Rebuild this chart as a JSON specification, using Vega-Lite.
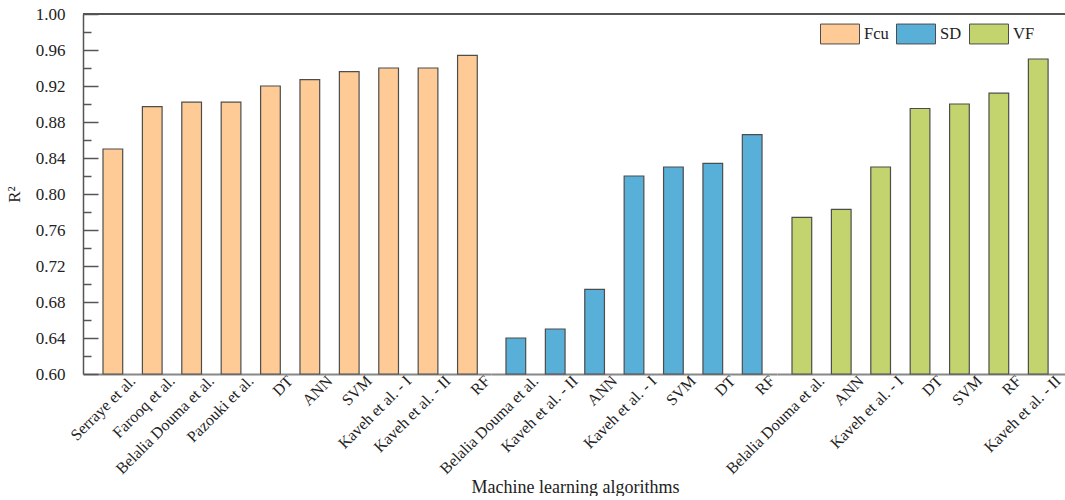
{
  "$schema": "https://vega.github.io/schema/vega-lite/v6.json",
  "padding": {"left": 5, "top": 5, "right": 0, "bottom": 0},
  "autosize": {"type": "pad"},
  "spacing": 0,
  "bounds": "flush",
  "background": "white",
  "config": {
    "font": "Liberation Serif",
    "view": {"stroke": null},
    "concat": {"spacing": 0}
  },
  "data": {
    "values": [
      {"group": "Fcu", "algorithm": "Serraye et al.", "r2": 0.850},
      {"group": "Fcu", "algorithm": "Farooq et al.", "r2": 0.897},
      {"group": "Fcu", "algorithm": "Belalia Douma et al.", "r2": 0.902},
      {"group": "Fcu", "algorithm": "Pazouki et al.", "r2": 0.902},
      {"group": "Fcu", "algorithm": "DT", "r2": 0.920},
      {"group": "Fcu", "algorithm": "ANN", "r2": 0.927},
      {"group": "Fcu", "algorithm": "SVM", "r2": 0.936},
      {"group": "Fcu", "algorithm": "Kaveh et al. - I", "r2": 0.940},
      {"group": "Fcu", "algorithm": "Kaveh et al. - II", "r2": 0.940},
      {"group": "Fcu", "algorithm": "RF", "r2": 0.954},
      {"group": "SD", "algorithm": "Belalia Douma et al.", "r2": 0.640},
      {"group": "SD", "algorithm": "Kaveh et al. - II", "r2": 0.650},
      {"group": "SD", "algorithm": "ANN", "r2": 0.694},
      {"group": "SD", "algorithm": "Kaveh et al. - I", "r2": 0.820},
      {"group": "SD", "algorithm": "SVM", "r2": 0.830},
      {"group": "SD", "algorithm": "DT", "r2": 0.834},
      {"group": "SD", "algorithm": "RF", "r2": 0.866},
      {"group": "VF", "algorithm": "Belalia Douma et al.", "r2": 0.774},
      {"group": "VF", "algorithm": "ANN", "r2": 0.783},
      {"group": "VF", "algorithm": "Kaveh et al. - I", "r2": 0.830},
      {"group": "VF", "algorithm": "DT", "r2": 0.895},
      {"group": "VF", "algorithm": "SVM", "r2": 0.900},
      {"group": "VF", "algorithm": "RF", "r2": 0.912},
      {"group": "VF", "algorithm": "Kaveh et al. - II", "r2": 0.950}
    ]
  },
  "resolve": {"scale": {"color": "shared", "y": "shared"}},
  "hconcat": [
    {
      "width": 408,
      "height": 360,
      "transform": [{"filter": "datum.group == 'Fcu'"}],
      "resolve": {"axis": {"y": "independent"}},
      "layer": [
        {
          "mark": {"type": "bar", "stroke": "#4d4d4d", "strokeWidth": 1.2},
          "encoding": {
            "x": {
              "field": "algorithm", "type": "nominal", "sort": null,
              "scale": {"paddingInner": 0.5, "paddingOuter": 0.428, "align": 0.593},
              "axis": {"title": null, "labelAngle": -45, "labelAlign": "right", "labelBaseline": "middle", "labelFontSize": 16, "labelColor": "#222", "labelOffset": 20, "labelPadding": 4, "labelOverlap": false, "ticks": false, "domainColor": "#888", "domainWidth": 2, "labelLimit": 300}
            },
            "y": {
              "field": "r2", "type": "quantitative",
              "scale": {"domain": [0.6, 1.0], "zero": false, "nice": false},
              "axis": {
                "orient": "left",
                "values": [0.6, 0.64, 0.68, 0.72, 0.76, 0.8, 0.84, 0.88, 0.92, 0.96, 1.0],
                "format": ".2f",
                "tickSize": -15,
                "labelPadding": 33,
                "labelOverlap": false,
                "labelFontSize": 17, "labelColor": "#222",
                "domainColor": "#555", "domainWidth": 1.5,
                "tickColor": "#555", "tickWidth": 1.5,
                "grid": false,
                "title": "R²", "titleFontSize": 17, "titleFontWeight": "normal", "titleColor": "#222", "titlePadding": 12
              }
            },
            "y2": {"datum": 0.6},
            "color": {
              "field": "group", "type": "nominal",
              "scale": {"domain": ["Fcu", "SD", "VF"], "range": ["#FECB96", "#58AFD8", "#C3D36E"]},
              "legend": {
                "title": null, "orient": "none", "legendX": 737, "legendY": 0,
                "direction": "horizontal", "columns": 3, "gridAlign": "none",
                "symbolType": "M-1,-0.51H1V0.51H-1Z", "symbolSize": 1521,
                "symbolStrokeColor": "#555", "symbolStrokeWidth": 1, "symbolOpacity": 1,
                "labelFontSize": 16.5, "labelColor": "#222", "labelOffset": 4, "columnPadding": 5, "padding": 0
              }
            }
          }
        },
        {
          "mark": {"type": "rule", "color": "#555", "strokeWidth": 1.5},
          "encoding": {
            "y": {
              "datum": 1.0, "type": "quantitative",
              "scale": {"domain": [0.6, 1.0], "zero": false, "nice": false},
              "axis": {
                "orient": "left",
                "values": [0.62, 0.66, 0.7, 0.74, 0.78, 0.82, 0.86, 0.9, 0.94, 0.98],
                "tickSize": -8, "tickColor": "#555", "tickWidth": 1.5,
                "labels": false, "domain": false, "grid": false, "title": null
              }
            }
          }
        }
      ]
    },
    {
      "width": 286,
      "height": 360,
      "transform": [{"filter": "datum.group == 'SD'"}],
      "layer": [
        {
          "mark": {"type": "bar", "stroke": "#4d4d4d", "strokeWidth": 1.2},
          "encoding": {
            "x": {
              "field": "algorithm", "type": "nominal", "sort": null,
              "scale": {"paddingInner": 0.5, "paddingOuter": 0.38, "align": 0.5},
              "axis": {"title": "Machine learning algorithms", "titleX": 84, "titleY": 118, "titleBaseline": "alphabetic", "titleFontSize": 18, "titleFontWeight": "normal", "titleColor": "#222", "labelAngle": -45, "labelAlign": "right", "labelBaseline": "middle", "labelFontSize": 16, "labelColor": "#222", "labelOffset": 20, "labelPadding": 4, "labelOverlap": false, "ticks": false, "domainColor": "#888", "domainWidth": 2, "labelLimit": 300}
            },
            "y": {
              "field": "r2", "type": "quantitative",
              "scale": {"domain": [0.6, 1.0], "zero": false, "nice": false},
              "axis": null
            },
            "y2": {"datum": 0.6},
            "color": {
              "field": "group", "type": "nominal",
              "scale": {"domain": ["Fcu", "SD", "VF"], "range": ["#FECB96", "#58AFD8", "#C3D36E"]}
            }
          }
        },
        {
          "mark": {"type": "rule", "color": "#555", "strokeWidth": 1.5},
          "encoding": {"y": {"datum": 1.0}}
        }
      ]
    },
    {
      "width": 288,
      "height": 360,
      "transform": [{"filter": "datum.group == 'VF'"}],
      "layer": [
        {
          "mark": {"type": "bar", "stroke": "#4d4d4d", "strokeWidth": 1.2},
          "encoding": {
            "x": {
              "field": "algorithm", "type": "nominal", "sort": null,
              "scale": {"paddingInner": 0.5, "paddingOuter": 0.405, "align": 0.47},
              "axis": {"title": null, "labelAngle": -45, "labelAlign": "right", "labelBaseline": "middle", "labelFontSize": 16, "labelColor": "#222", "labelOffset": 20, "labelPadding": 4, "labelOverlap": false, "ticks": false, "domainColor": "#888", "domainWidth": 2, "labelLimit": 300}
            },
            "y": {
              "field": "r2", "type": "quantitative",
              "scale": {"domain": [0.6, 1.0], "zero": false, "nice": false},
              "axis": null
            },
            "y2": {"datum": 0.6},
            "color": {
              "field": "group", "type": "nominal",
              "scale": {"domain": ["Fcu", "SD", "VF"], "range": ["#FECB96", "#58AFD8", "#C3D36E"]}
            }
          }
        },
        {
          "mark": {"type": "rule", "color": "#555", "strokeWidth": 1.5},
          "encoding": {"y": {"datum": 1.0}}
        }
      ]
    }
  ]
}
